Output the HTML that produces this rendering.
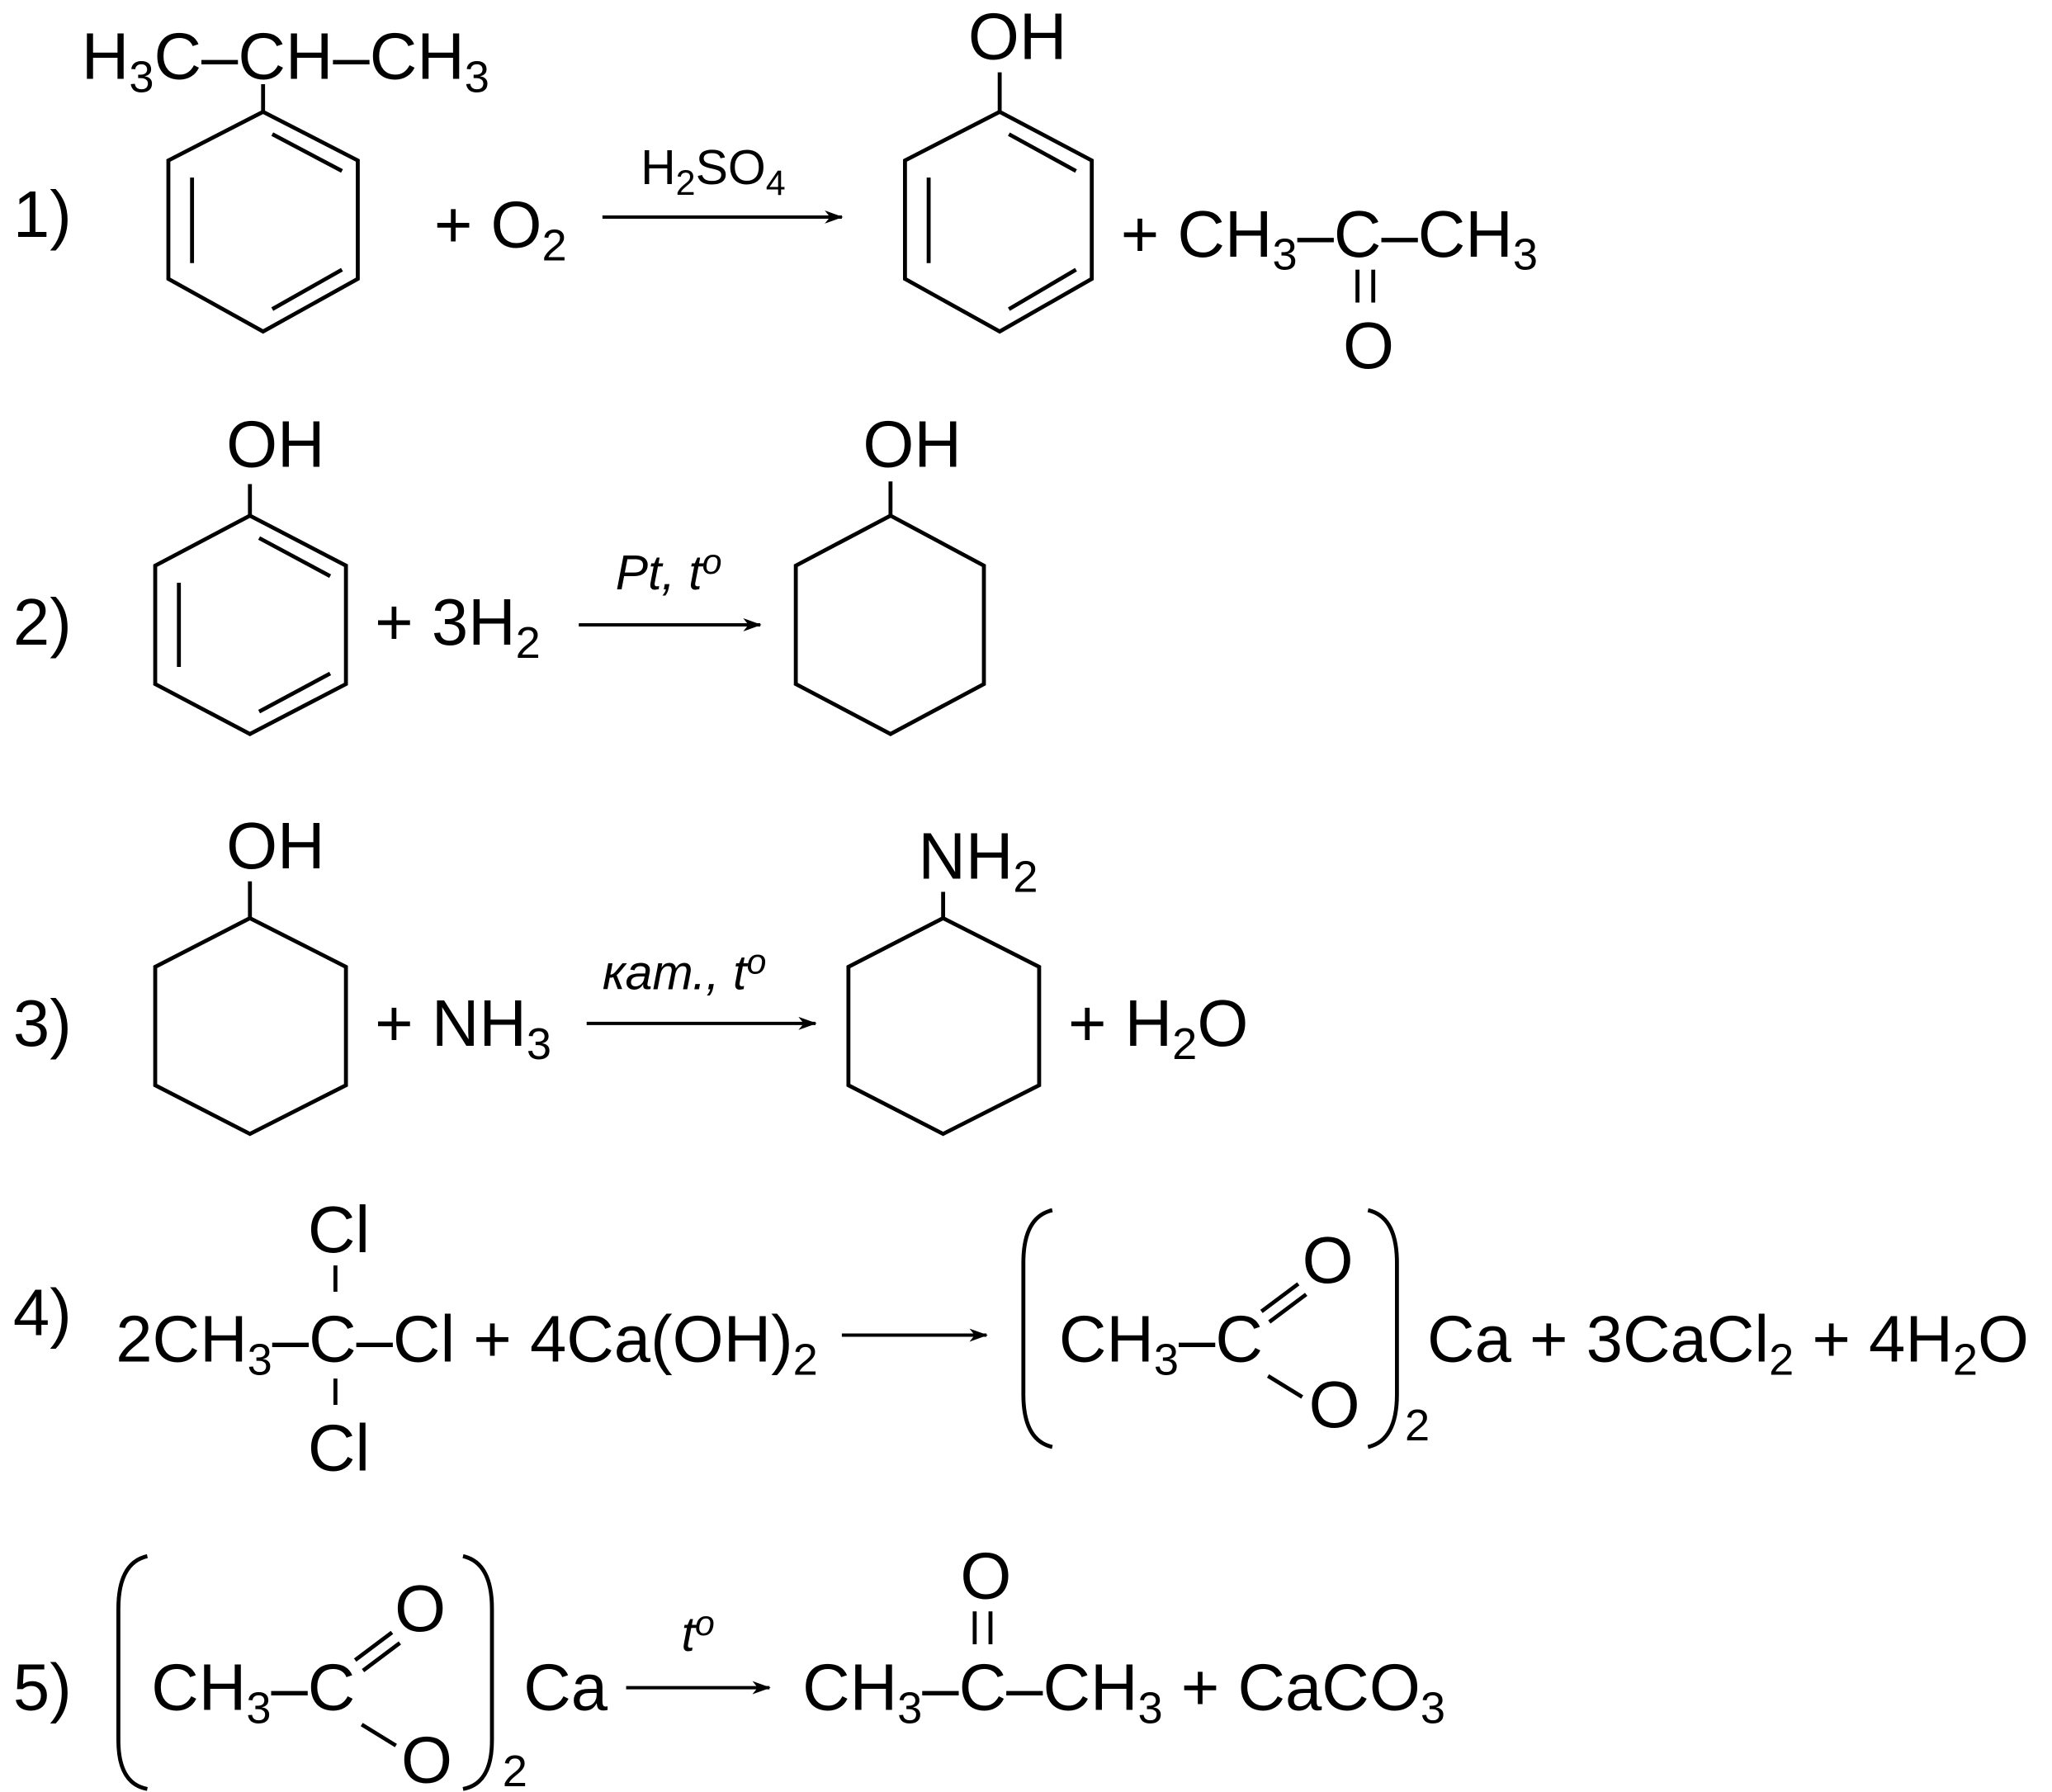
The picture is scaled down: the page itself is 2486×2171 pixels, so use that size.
<!DOCTYPE html>
<html><head><meta charset="utf-8"><style>
html,body{margin:0;padding:0;background:#fff;}
svg{display:block;}
text{font-family:"Liberation Sans",sans-serif;font-size:50px;fill:#000;}
.s{font-size:34px;}
.c{font-size:37px;}
.i{font-style:italic;font-size:37px;}
</style></head><body>
<svg width="2486" height="2171" viewBox="0 0 1560 1362.3" preserveAspectRatio="none" xmlns="http://www.w3.org/2000/svg">
<defs><marker id="a" markerWidth="14" markerHeight="10" refX="13" refY="5" orient="auto" markerUnits="userSpaceOnUse"><path d="M0,0 L14,5 L0,10 L4,5 Z" fill="#000"/></marker></defs>
<g stroke="#000" stroke-width="3" fill="none">
<line x1="200" y1="64" x2="200" y2="85"/>
<polygon points="200,85 272,122 272,212 200,252 128,212 128,122"/>
<line x1="207" y1="102" x2="260" y2="130"/><line x1="146" y1="135" x2="146" y2="200"/><line x1="207" y1="235" x2="260" y2="205"/>
<line x1="458" y1="165" x2="640" y2="165" marker-end="url(#a)" stroke-width="2.5"/>
<line x1="760" y1="55" x2="760" y2="85"/>
<polygon points="760,85 830,122 830,212 760,252 688,212 688,122"/>
<line x1="767" y1="102" x2="818" y2="130"/><line x1="706" y1="135" x2="706" y2="200"/><line x1="767" y1="235" x2="818" y2="205"/>
<line x1="1032" y1="205" x2="1032" y2="230"/><line x1="1044" y1="205" x2="1044" y2="230"/>
<line x1="190" y1="368" x2="190" y2="392"/>
<polygon points="190,392 263,430 263,520 190,558 118,520 118,430"/>
<line x1="197" y1="409" x2="251" y2="438"/><line x1="136" y1="443" x2="136" y2="507"/><line x1="197" y1="541" x2="251" y2="512"/>
<line x1="440" y1="475" x2="578" y2="475" marker-end="url(#a)" stroke-width="2.5"/>
<line x1="677" y1="366" x2="677" y2="392"/>
<polygon points="677,392 748,430 748,520 677,558 605,520 605,430"/>
<line x1="190" y1="670" x2="190" y2="698"/>
<polygon points="190,698 263,735 263,825 190,862 118,825 118,735"/>
<line x1="446" y1="778" x2="620" y2="778" marker-end="url(#a)" stroke-width="2.5"/>
<line x1="717" y1="678" x2="717" y2="698"/>
<polygon points="717,698 790,735 790,825 717,862 645,825 645,735"/>
<line x1="255" y1="962" x2="255" y2="982"/><line x1="255" y1="1048" x2="255" y2="1068"/>
<line x1="640" y1="1015" x2="750" y2="1015" marker-end="url(#a)" stroke-width="2.5"/>
<path d="M800,920 Q778,925 778,960 L778,1060 Q778,1095 800,1100"/>
<path d="M1040,920 Q1062,925 1062,960 L1062,1060 Q1062,1095 1040,1100"/>
<line x1="959" y1="997" x2="987" y2="976"/><line x1="965" y1="1005" x2="993" y2="984"/>
<line x1="964" y1="1046" x2="990" y2="1062"/>
<path d="M112,1183 Q90,1188 90,1223 L90,1323 Q90,1356 112,1360"/>
<path d="M352,1183 Q374,1188 374,1223 L374,1323 Q374,1356 352,1360"/>
<line x1="270" y1="1262" x2="298" y2="1241"/><line x1="276" y1="1270" x2="304" y2="1249"/>
<line x1="275" y1="1311" x2="301" y2="1327"/>
<line x1="476" y1="1283" x2="585" y2="1283" marker-end="url(#a)" stroke-width="2.5"/>
<line x1="741" y1="1225" x2="741" y2="1250"/><line x1="753" y1="1225" x2="753" y2="1250"/>
</g>
<text x="62" y="60">H<tspan class="s" dy="10">3</tspan><tspan dy="-10">C–CH–CH</tspan><tspan class="s" dy="10">3</tspan></text>
<text x="10" y="180">1)</text>
<text x="330" y="188">+ O<tspan class="s" dy="10">2</tspan></text>
<text class="c" x="487" y="140">H<tspan font-size="27" dy="8">2</tspan><tspan dy="-8">SO</tspan><tspan font-size="27" dy="8">4</tspan></text>
<text x="736" y="45">OH</text>
<text x="852" y="195">+ CH<tspan class="s" dy="10">3</tspan><tspan dy="-10">–C–CH</tspan><tspan class="s" dy="10">3</tspan></text>
<text x="1021" y="280">O</text>
<text x="10" y="490">2)</text>
<text x="172" y="355">OH</text>
<text x="285" y="490">+ 3H<tspan class="s" dy="10">2</tspan></text>
<text class="i" x="468" y="448">Pt, t<tspan font-size="27" dy="-12">o</tspan></text>
<text x="656" y="355">OH</text>
<text x="10" y="795">3)</text>
<text x="172" y="660">OH</text>
<text x="285" y="795">+ NH<tspan class="s" dy="10">3</tspan></text>
<text class="i" x="458" y="752">кат., t<tspan font-size="27" dy="-12">o</tspan></text>
<text x="698" y="668">NH<tspan class="s" dy="10">2</tspan></text>
<text x="812" y="795">+ H<tspan class="s" dy="10">2</tspan><tspan dy="-10">O</tspan></text>
<text x="10" y="1015">4)</text>
<text x="234" y="952">Cl</text>
<text x="88" y="1035">2CH<tspan class="s" dy="10">3</tspan><tspan dy="-10">–C–Cl + 4Ca(OH)</tspan><tspan class="s" dy="10">2</tspan></text>
<text x="234" y="1118">Cl</text>
<text x="805" y="1035">CH<tspan class="s" dy="10">3</tspan><tspan dy="-10">–C</tspan></text>
<text x="990" y="975">O</text>
<text x="995" y="1085">O</text>
<text class="s" x="1068" y="1095">2</text>
<text x="1085" y="1035">Ca + 3CaCl<tspan class="s" dy="10">2</tspan><tspan dy="-10"> + 4H</tspan><tspan class="s" dy="10">2</tspan><tspan dy="-10">O</tspan></text>
<text x="10" y="1300">5)</text>
<text x="115" y="1300">CH<tspan class="s" dy="10">3</tspan><tspan dy="-10">–C</tspan></text>
<text x="300" y="1240">O</text>
<text x="305" y="1355">O</text>
<text class="s" x="382" y="1358">2</text>
<text x="398" y="1300">Ca</text>
<text class="i" x="518" y="1255">t<tspan font-size="27" dy="-12">o</tspan></text>
<text x="730" y="1215">O</text>
<text x="610" y="1300">CH<tspan class="s" dy="10">3</tspan><tspan dy="-10">–C–CH</tspan><tspan class="s" dy="10">3</tspan><tspan dy="-10"> + CaCO</tspan><tspan class="s" dy="10">3</tspan></text>
</svg>
</body></html>
